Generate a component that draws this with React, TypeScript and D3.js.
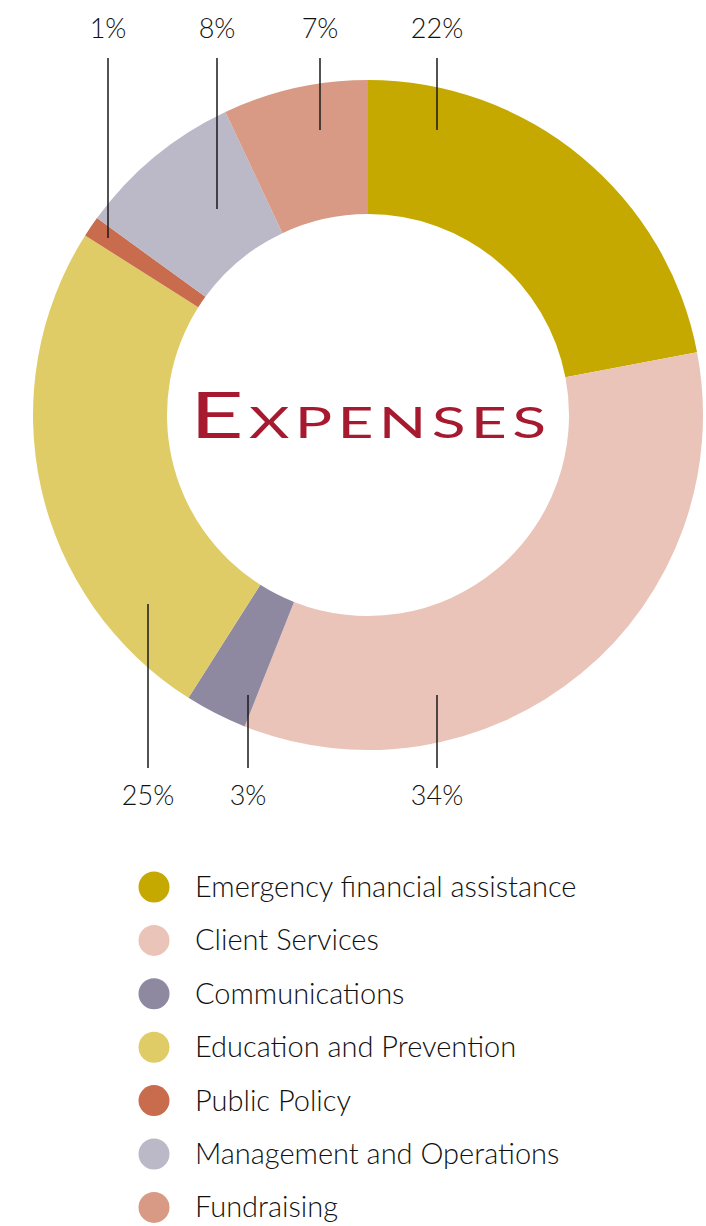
import React, { useEffect, useRef } from 'react';
import * as d3 from 'd3';

// expense categories, clockwise from 12 o'clock
const categories = [
  'Emergency financial assistance',
  'Client Services',
  'Communications',
  'Education and Prevention',
  'Public Policy',
  'Management and Operations',
  'Fundraising',
];
const shares = [22, 34, 3, 25, 1, 8, 7];
const colors = ['#c5a900', '#eac4b8', '#8e88a0', '#dfcc67', '#c96b4d', '#bbb9c8', '#d89a84'];

// hand placed percentage callouts: x of the leader, where it ends in the ring, side
const callouts = [
  { idx: 0, x: 437, end: 130, side: 'top' },
  { idx: 1, x: 437, end: 695, side: 'bottom' },
  { idx: 2, x: 248, end: 695, side: 'bottom' },
  { idx: 3, x: 148, end: 604, side: 'bottom' },
  { idx: 4, x: 108, end: 238, side: 'top' },
  { idx: 5, x: 217, end: 209, side: 'top' },
  { idx: 6, x: 320, end: 130, side: 'top' },
];

const FONT = 'Lato, "Open Sans", sans-serif';

const App: React.FC = () => {
  const svgRef = useRef<SVGSVGElement>(null);

  useEffect(() => {
    if (!svgRef.current) return;
    const svg = d3.select(svgRef.current);
    svg.selectAll('*').remove();

    const cx = 368, cy = 415;
    const outer = 335, inner = 201;

    const pie = d3.pie<number>().sort(null).value(d => d);
    const arc = d3.arc<d3.PieArcDatum<number>>().innerRadius(inner).outerRadius(outer);

    const ring = svg.append('g').attr('transform', `translate(${cx},${cy})`);
    ring.selectAll('path')
      .data(pie(shares))
      .join('path')
      .attr('d', arc)
      .attr('fill', (_, i) => colors[i]);

    // title in small caps, stretched a bit to get the wide display look
    const stretch = 1.45;
    const title = svg.append('g')
      .attr('transform', `translate(190,438) scale(${stretch},1)`)
      .append('text')
      .attr('fill', '#a6192e')
      .attr('font-family', FONT)
      .attr('textLength', 356 / stretch)
      .attr('lengthAdjust', 'spacing');
    title.append('tspan').attr('font-size', 64).text('E');
    title.append('tspan').attr('font-size', 43).text('XPENSES');

    // leader lines + labels
    callouts.forEach(c => {
      const top = c.side === 'top';
      svg.append('line')
        .attr('x1', c.x).attr('x2', c.x)
        .attr('y1', top ? 58 : c.end)
        .attr('y2', top ? c.end : 768)
        .attr('stroke', '#1a1a1a')
        .attr('stroke-width', 1.5);
      svg.append('text')
        .attr('x', c.x)
        .attr('y', top ? 38 : 805)
        .attr('text-anchor', 'middle')
        .attr('font-family', FONT)
        .attr('font-weight', 300)
        .attr('font-size', 27)
        .attr('fill', '#111')
        .text(`${shares[c.idx]}%`);
    });

    // legend
    const legend = svg.append('g').attr('transform', 'translate(154,887)');
    categories.forEach((name, i) => {
      const row = legend.append('g').attr('transform', `translate(0,${i * 53.4})`);
      row.append('circle').attr('r', 15.5).attr('fill', colors[i]);
      row.append('text')
        .attr('x', 41)
        .attr('y', 10)
        .attr('font-family', FONT)
        .attr('font-weight', 300)
        .attr('font-size', 29)
        .attr('fill', '#111')
        .text(name);
    });
  }, []);

  return (
    <div style={{ position: 'fixed', left: 0, top: 0, width: 706, height: 1226, background: '#fff', overflow: 'hidden' }}>
      <svg ref={svgRef} width={706} height={1226} style={{ display: 'block' }} />
    </div>
  );
};

export default App;
